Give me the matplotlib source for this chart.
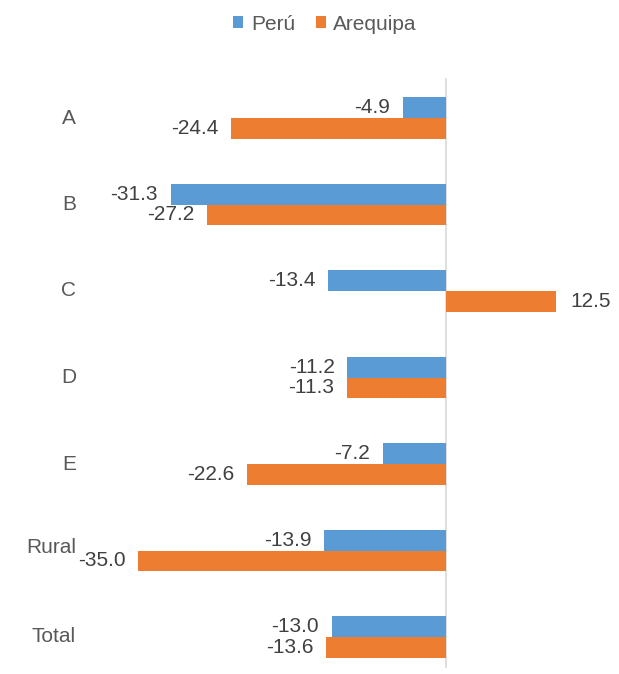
import matplotlib.pyplot as plt
import matplotlib.transforms as mtransforms
import numpy as np

plt.rcParams['font.family'] = ['Liberation Sans', 'DejaVu Sans']

categories = ['A', 'B', 'C', 'D', 'E', 'Rural', 'Total']
peru = [-4.9, -31.3, -13.4, -11.2, -7.2, -13.9, -13.0]
arequipa = [-24.4, -27.2, 12.5, -11.3, -22.6, -35.0, -13.6]

BLUE = '#5B9BD5'
ORANGE = '#ED7D31'
W, H = 619, 674

fig = plt.figure(figsize=(W / 100, H / 100), dpi=100)
# axes spans pixel x 20..610, y 78..668
ax = fig.add_axes([20 / W, 6 / H, 590 / W, 590 / H])

y = np.arange(len(categories))
bh = 0.237
b1 = ax.barh(y - bh / 2, peru, height=bh, color=BLUE, label='Perú')
b2 = ax.barh(y + bh / 2, arequipa, height=bh, color=ORANGE, label='Arequipa')

ax.set_xlim(-426 / 8.8, 164 / 8.8)
ax.set_ylim(550 / 86.5, -40 / 86.5)
ax.axvline(0, color='#D9D9D9', lw=1.2, zorder=0)

for bars in (b1, b2):
    for rect, v in zip(bars, bars.datavalues):
        yc = rect.get_y() + rect.get_height() / 2
        ax.annotate(f'{v:.1f}', (v, yc), xytext=(-9 if v < 0 else 10, 0),
                    textcoords='offset points', ha='right' if v < 0 else 'left',
                    va='center', fontsize=15, color='#404040')

ax.set_yticks([])
ax.set_xticks([])
for s in ax.spines.values():
    s.set_visible(False)

# category labels, right aligned at a fixed pixel x
tr = mtransforms.blended_transform_factory(fig.dpi_scale_trans, ax.transData)
for i, c in enumerate(categories):
    ax.text(0.76, i - (0.03 if c == 'Rural' else 0), c, transform=tr,
            ha='right', va='center', fontsize=15, color='#595959')

fig.legend(loc='center', bbox_to_anchor=(325 / W, 1 - 24 / H), ncol=2,
           frameon=False, fontsize=15, labelcolor='#595959',
           handlelength=0.5, handleheight=0.5, handletextpad=0.35,
           columnspacing=1.0)

fig.savefig('out.png', dpi=100)
